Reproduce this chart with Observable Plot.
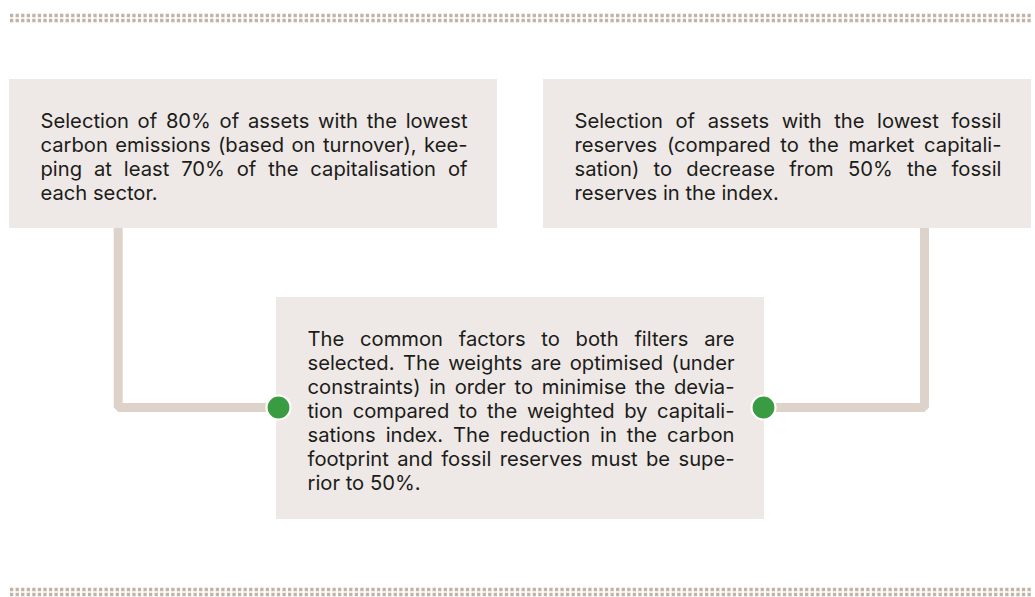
<!DOCTYPE html>
<html>
<head>
<meta charset="utf-8">
<script src="https://cdn.jsdelivr.net/npm/d3@7"></script>
<script src="https://cdn.jsdelivr.net/npm/@observablehq/plot@0.6"></script>
<style>
  html, body { margin: 0; padding: 0; background: #ffffff; }
  #chart svg { display: block; }
</style>
</head>
<body>
<div id="chart"></div>
<script>
// ---- Content (text of the three boxes, one entry per typeset line) ----
const leftLines = [
  "Selection of 80% of assets with the lowest",
  "carbon emissions (based on turnover), kee-",
  "ping at least 70% of the capitalisation of",
  "each sector."
];
const rightLines = [
  "Selection of assets with the lowest fossil",
  "reserves (compared to the market capitali-",
  "sation) to decrease from 50% the fossil",
  "reserves in the index."
];
const middleLines = [
  "The common factors to both filters are",
  "selected. The weights are optimised (under",
  "constraints) in order to minimise the devia-",
  "tion compared to the weighted by capitali-",
  "sations index. The reduction in the carbon",
  "footprint and fossil reserves must be supe-",
  "rior to 50%."
];

// ---- Diagram layout (page units) ----
const boxes = [
  {id: "left",   x1: 9,   x2: 497,  y1: 79,  y2: 228, lines: leftLines,   firstBaseline: 127},
  {id: "right",  x1: 543, x2: 1031, y1: 79,  y2: 228, lines: rightLines,  firstBaseline: 127},
  {id: "middle", x1: 276, x2: 764,  y1: 297, y2: 519, lines: middleLines, firstBaseline: 345}
];
const connectors = [
  {id: "left",  pts: [[117.7, 228], [117.7, 407], [278, 407]]},
  {id: "right", pts: [[924, 228], [924, 407], [763, 407]]}
];
const joints = [{x: 278, y: 407}, {x: 763, y: 407}];
const dottedRules = [15, 20, 589, 594];

const W = 1035, H = 597;
const pad = 31, lineGap = 24;

const textRows = boxes.flatMap(b => b.lines.map((t, i) => ({
  text: t,
  x: b.x1 + pad,
  y: b.firstBaseline + i * lineGap,
  target: (b.x2 - b.x1) - 2 * pad + 1,
  justify: i < b.lines.length - 1
})));
const connectorPts = connectors.flatMap(c => c.pts.map(([x, y]) => ({id: c.id, x, y})));

const font = "Inter, 'Noto Sans', sans-serif";

const plot = Plot.plot({
  width: W,
  height: H,
  margin: 0,
  x: {domain: [0, W], range: [0, W], axis: null},
  y: {domain: [0, H], range: [0, H], axis: null},
  style: {fontFamily: font, background: "#ffffff"},
  marks: [
    Plot.ruleY(dottedRules, {y: d => d, x1: 10, x2: 1032, stroke: "#c3b2a6", strokeWidth: 3.5, strokeDasharray: "3.3 2.26"}),
    Plot.line(connectorPts, {x: "x", y: "y", z: "id", stroke: "#ddd3ca", strokeWidth: 9, strokeLinejoin: "miter", strokeLinecap: "square", curve: "linear"}),
    Plot.rect(boxes, {x1: "x1", x2: "x2", y1: "y1", y2: "y2", fill: "#eee9e6"}),
    Plot.dot(joints, {x: "x", y: "y", r: 12, fill: "#3a9c42", stroke: "#ffffff", strokeWidth: 2.2}),
    Plot.text(textRows, {
      x: "x", y: "y", text: "text",
      textAnchor: "start", lineAnchor: "bottom",
      fontSize: 20.2, fill: "#1c1c1a",
      className: "bodytext"
    })
  ]
});

document.getElementById("chart").appendChild(plot);

// Justify every line except the last of each paragraph by spreading word spacing.
const texts = plot.querySelectorAll("g.bodytext text");
texts.forEach((el, i) => {
  const row = textRows[i];
  if (!row || !row.justify) return;
  const natural = el.getComputedTextLength();
  const spaces = (row.text.match(/ /g) || []).length;
  if (spaces > 0) {
    const extra = (row.target - natural) / spaces;
    el.style.wordSpacing = extra + "px";
  }
});
</script>
</body>
</html>
